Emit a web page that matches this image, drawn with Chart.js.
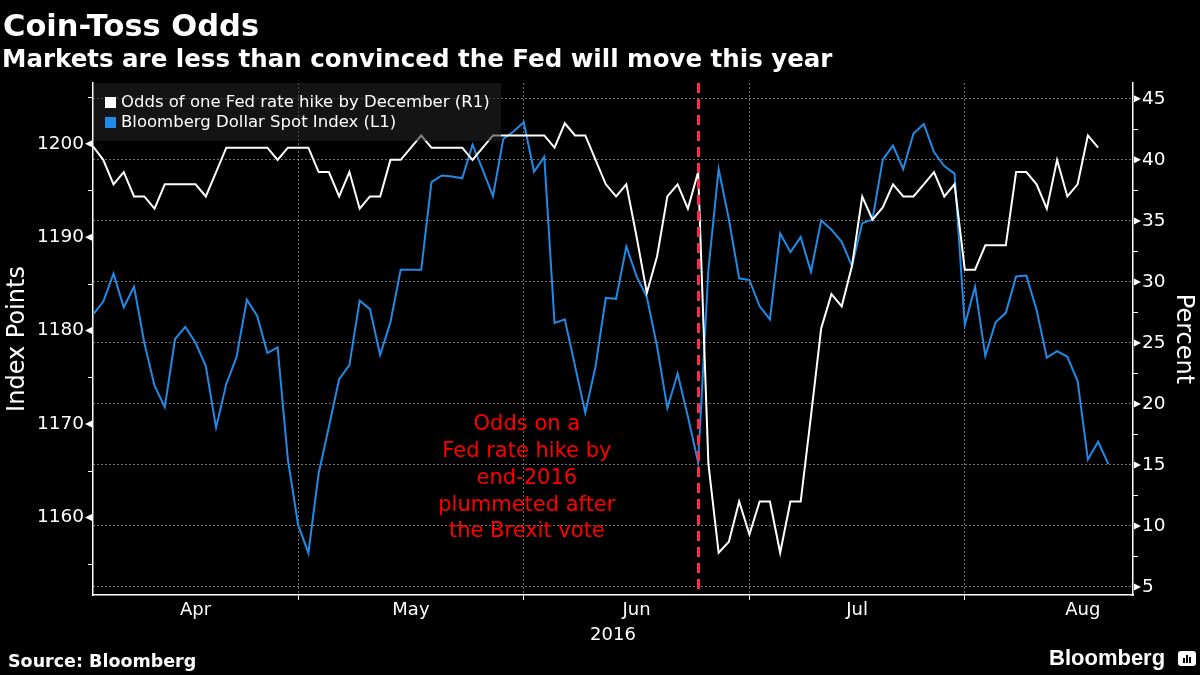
<!DOCTYPE html>
<html>
<head>
<meta charset="utf-8">
<script src="https://cdn.jsdelivr.net/npm/chart.js@4.4.1/dist/chart.umd.min.js"></script>
<style>
  body { margin: 0; background: #000; }
  #wrap { position: relative; width: 1200px; height: 675px; overflow: hidden; font-family: 'DejaVu Sans', sans-serif; color: #fff; }
  #chart { position: absolute; left: 0; top: 0; }
  .title { position: absolute; left: 3px; top: 10px; font-size: 30.5px; line-height: 31px; font-weight: bold; }
  .subtitle { position: absolute; left: 2px; top: 46px; font-size: 24.5px; line-height: 25px; font-weight: bold; white-space: nowrap; }
  .source { position: absolute; left: 8px; top: 653px; font-size: 17.5px; line-height: 17px; font-weight: bold; }
  .logo { position: absolute; left: 1049px; top: 647px; font-family: 'Liberation Sans', Arial, sans-serif; font-size: 22px; line-height: 22px; font-weight: bold; }
  .logo-icon { position: absolute; left: 1178px; top: 651px; width: 18px; height: 15px; background: #fff; border-radius: 3px; }
  .logo-icon i { position: absolute; bottom: 3px; width: 2px; background: #000; }
</style>
</head>
<body>
<div id="wrap">
  <canvas id="chart" width="1200" height="675"></canvas>
  <div class="title">Coin-Toss Odds</div>
  <div class="subtitle">Markets are less than convinced the Fed will move this year</div>
  <div class="source">Source: Bloomberg</div>
  <div class="logo">Bloomberg</div>
  <div class="logo-icon"><i style="left:5px;height:5px"></i><i style="left:8px;height:8px"></i><i style="left:11px;height:6px"></i></div>
</div>
<script>
// weekday closes, 2016-04-04 .. 2016-08-19
const dollarIndex = [
  1181.7, 1183.1, 1186.1, 1182.5, 1184.7, 1178.7, 1174.1, 1171.8, 1179.1, 1180.4,
  1178.7, 1176.2, 1169.6, 1174.3, 1177.2, 1183.3, 1181.6, 1177.6, 1178.2, 1166.2,
  1159.2, 1156.2, 1164.7, 1169.7, 1174.8, 1176.3, 1183.2, 1182.3, 1177.4, 1180.9,
  1186.5, 1186.5, 1186.5, 1195.9, 1196.6, 1196.5, 1196.3, 1199.9, 1197.2, 1194.4,
  1200.5, 1201.3, 1202.3, 1197.0, 1198.6, 1180.8, 1181.2, 1176.2, 1171.2, 1176.2,
  1183.5, 1183.4, 1189.0, 1185.8, 1183.6, 1178.3, 1171.7, 1175.4, 1170.8, 1165.9,
  1186.5, 1197.3, 1191.9, 1185.6, 1185.4, 1182.6, 1181.2, 1190.4, 1188.4, 1190.0,
  1186.3, 1191.8, 1190.8, 1189.5, 1186.9, 1191.5, 1191.9, 1198.3, 1199.8, 1197.3,
  1201.1, 1202.1, 1199.1, 1197.6, 1196.8, 1180.6, 1184.7, 1177.3, 1180.9, 1181.9,
  1185.8, 1185.9, 1182.2, 1177.1, 1177.8, 1177.2, 1174.6, 1166.2, 1168.1, 1165.7
];

const hikeOdds = [
  41.1, 40, 38, 39, 37, 37, 36, 38, 38, 38,
  38, 37, 39, 41, 41, 41, 41, 41, 40, 41,
  41, 41, 39, 39, 37, 39, 36, 37, 37, 40,
  40, 41, 42, 41, 41, 41, 41, 40, 41, 42,
  42, 42, 42, 42, 42, 41, 43, 42, 42, 40,
  38, 37, 38, 33.7, 29.1, 32.1, 37, 38, 36, 39,
  15.1, 7.8, 8.7, 12, 9.3, 12, 12, 7.8, 12, 12,
  19, 26.2, 29, 28, 31.3, 37, 35.1, 36.1, 38, 37,
  37, 38, 39, 37, 38, 31, 31, 33, 33, 33,
  39, 39, 38, 36, 40, 37, 38, 42, 41
];

const monthCodes = ['04', '05', '06', '07', '08'];
const monthNames = ['Apr', 'May', 'Jun', 'Jul', 'Aug'];
const leftTicks = [1160, 1170, 1180, 1190, 1200];
const leftMinorTicks = [1155, 1165, 1175, 1185, 1195, 1205];
const rightTicks = [5, 10, 15, 20, 25, 30, 35, 40, 45];
const rightMinorTicks = [7.5, 12.5, 17.5, 22.5, 27.5, 32.5, 37.5, 42.5];
const markerDate = '2016-06-24';
const noteLines = ['Odds on a', 'Fed rate hike by', 'end-2016', 'plummeted after', 'the Brexit vote'];

function weekdays(from, to) {
  const out = [];
  const end = new Date(to + 'T00:00:00Z');
  for (let d = new Date(from + 'T00:00:00Z'); d <= end; d.setUTCDate(d.getUTCDate() + 1)) {
    const wd = d.getUTCDay();
    if (wd !== 0 && wd !== 6) out.push(d.toISOString().slice(0, 10));
  }
  return out;
}

const axisDays = weekdays('2016-04-04', '2016-08-31');
const monthStart = monthCodes.map(m => axisDays.findIndex(d => d.slice(5, 7) === m));
const monthEnd = monthStart.map((s, i) => (i < monthStart.length - 1 ? monthStart[i + 1] : axisDays.length));

const xTicks = [];
monthNames.forEach((name, i) => {
  if (i > 0) xTicks.push({ value: monthStart[i], name: '', boundary: true });
  xTicks.push({ value: (monthStart[i] + monthEnd[i]) / 2, name: name, boundary: false });
});

const FONT = "'DejaVu Sans', sans-serif";
const GRID = 'rgba(150,150,150,0.75)';
const BLUE = '#2189e6';

const decor = {
  id: 'decor',
  afterDatasetsDraw(chart) {
    const { ctx, chartArea: a, scales } = chart;
    const x = scales.x, yr = scales.y1;
    ctx.save();

    // brexit marker
    const mx = Math.round(x.getPixelForValue(axisDays.indexOf(markerDate))) + 0.5;
    ctx.strokeStyle = '#ff2a48';
    ctx.lineWidth = 3;
    ctx.setLineDash([10, 6]);
    ctx.beginPath();
    ctx.moveTo(mx, a.top);
    ctx.lineTo(mx, a.bottom);
    ctx.stroke();
    ctx.setLineDash([]);

    // note
    ctx.fillStyle = '#ff0000';
    ctx.font = '21px ' + FONT;
    ctx.textAlign = 'center';
    ctx.textBaseline = 'middle';
    const nx = x.getPixelForValue(42.3);
    const ny = yr.getPixelForValue(18.3);
    noteLines.forEach((t, i) => ctx.fillText(t, nx, ny + i * 26.8));

    // legend
    ctx.fillStyle = 'rgba(36,36,36,0.55)';
    ctx.fillRect(a.left + 1, a.top, 407, 58);
    ctx.font = '16.5px ' + FONT;
    ctx.textAlign = 'left';
    chart.data.datasets.forEach((ds, i) => {
      const top = a.top + 14 + i * 20;
      ctx.fillStyle = ds.borderColor;
      ctx.fillRect(a.left + 12, top, 11, 11);
      ctx.fillStyle = '#fff';
      ctx.fillText(ds.label, a.left + 28, top + 6);
    });
    ctx.restore();
  },
  afterDraw(chart) {
    const { ctx, chartArea: a, scales } = chart;
    ctx.save();
    ctx.fillStyle = '#fff';
    ctx.strokeStyle = '#fff';
    ctx.lineWidth = 1;
    leftTicks.forEach(v => {
      const y = scales.y.getPixelForValue(v);
      ctx.beginPath();
      ctx.moveTo(a.left - 8, y);
      ctx.lineTo(a.left - 1, y - 3.5);
      ctx.lineTo(a.left - 1, y + 3.5);
      ctx.fill();
    });
    leftMinorTicks.forEach(v => {
      const y = Math.round(scales.y.getPixelForValue(v)) + 0.5;
      ctx.beginPath();
      ctx.moveTo(a.left - 5, y);
      ctx.lineTo(a.left, y);
      ctx.stroke();
    });
    rightTicks.forEach(v => {
      const y = scales.y1.getPixelForValue(v);
      ctx.beginPath();
      ctx.moveTo(a.right + 8, y);
      ctx.lineTo(a.right + 1, y - 3.5);
      ctx.lineTo(a.right + 1, y + 3.5);
      ctx.fill();
    });
    rightMinorTicks.forEach(v => {
      const y = Math.round(scales.y1.getPixelForValue(v)) + 0.5;
      ctx.beginPath();
      ctx.moveTo(a.right, y);
      ctx.lineTo(a.right + 5, y);
      ctx.stroke();
    });
    ctx.restore();
  }
};

new Chart(document.getElementById('chart').getContext('2d'), {
  type: 'line',
  data: {
    datasets: [
      {
        label: 'Odds of one Fed rate hike by December (R1)',
        data: hikeOdds.map((v, i) => ({ x: i, y: v })),
        yAxisID: 'y1',
        borderColor: '#ffffff',
        borderWidth: 2,
        pointRadius: 0,
        fill: false,
      },
      {
        label: 'Bloomberg Dollar Spot Index (L1)',
        data: dollarIndex.map((v, i) => ({ x: i, y: v })),
        yAxisID: 'y',
        borderColor: BLUE,
        borderWidth: 2,
        pointRadius: 0,
        fill: false,
      },
    ],
  },
  options: {
    responsive: false,
    animation: false,
    events: [],
    layout: { padding: { top: 83, left: 0, right: 0, bottom: 0 } },
    elements: { line: { tension: 0 } },
    plugins: { legend: { display: false }, tooltip: { enabled: false } },
    scales: {
      x: {
        type: 'linear',
        min: 0,
        max: dollarIndex.length - 1 + 2.4,
        afterFit: s => { s.height = 80; },
        afterBuildTicks: s => { s.ticks = xTicks.map(t => ({ ...t })); },
        ticks: {
          color: '#fff',
          font: { family: FONT, size: 18 },
          padding: 0,
          autoSkip: false,
          maxRotation: 0,
          callback: (v, i, ticks) => ticks[i].name,
        },
        grid: {
          color: c => (c.tick && c.tick.boundary ? GRID : 'transparent'),
          tickColor: c => (c.tick && c.tick.boundary ? '#fff' : 'transparent'),
          tickLength: 5,
          lineWidth: 1,
        },
        border: { display: true, color: '#fff', width: 1.5, dash: [2, 2] },
        title: { display: true, text: '2016', color: '#fff', font: { family: FONT, size: 18 }, padding: { top: 0, bottom: 29 } },
      },
      y: {
        position: 'left',
        min: 1151.7,
        max: 1206.5,
        afterFit: s => { s.width = 93; },
        afterBuildTicks: s => { s.ticks = leftTicks.map(v => ({ value: v })); },
        ticks: { color: '#fff', font: { family: FONT, size: 18.5 }, padding: 3, callback: v => String(v) },
        grid: { drawOnChartArea: false, tickLength: 6, tickColor: 'transparent' },
        border: { display: true, color: '#fff', width: 1.5 },
        title: { display: true, text: 'Index Points', color: '#fff', font: { family: FONT, size: 24 }, padding: { top: 3 } },
      },
      y1: {
        position: 'right',
        min: 4.34,
        max: 46.3,
        afterFit: s => { s.width = 67; },
        afterBuildTicks: s => { s.ticks = rightTicks.map(v => ({ value: v })); },
        ticks: { color: '#fff', font: { family: FONT, size: 18.5 }, padding: 3, callback: v => String(v) },
        grid: { color: GRID, lineWidth: 1, tickLength: 6, tickColor: 'transparent' },
        border: { display: true, color: '#fff', width: 1.5, dash: [2, 2] },
        title: { display: true, text: 'Percent', color: '#fff', font: { family: FONT, size: 24 }, padding: { top: 2 } },
      },
    },
  },
  plugins: [decor],
});
</script>
</body>
</html>
